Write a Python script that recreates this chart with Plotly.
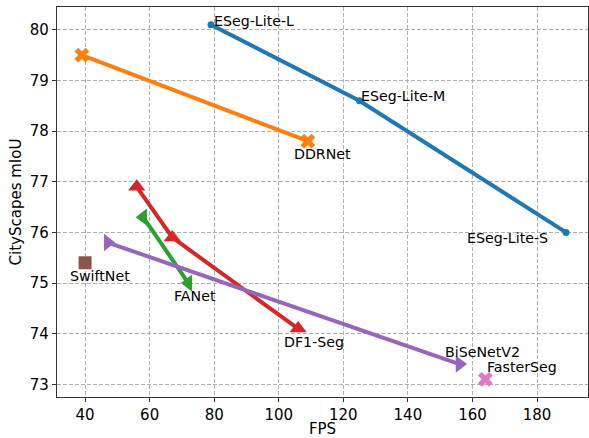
import plotly.graph_objects as go

eseg_fps = [79, 125, 189]
eseg_miou = [80.1, 78.6, 76.0]
eseg_names = ["ESeg-Lite-L", "ESeg-Lite-M", "ESeg-Lite-S"]

ddr_fps = [39, 109]
ddr_miou = [79.5, 77.8]

df1_fps = [56, 67, 106]
df1_miou = [76.9, 75.9, 74.1]

fanet_fps = [58, 72]
fanet_miou = [76.3, 75.0]

bise_fps = [47, 156]
bise_miou = [75.8, 73.4]

swift_fps = [40]
swift_miou = [75.4]

faster_fps = [164]
faster_miou = [73.1]

x_ticks = [40, 60, 80, 100, 120, 140, 160, 180]
y_ticks = [73, 74, 75, 76, 77, 78, 79, 80]

FONT = "DejaVu Sans"
fig = go.Figure()

def add(x, y, color, symbol, size, lw=4, mode="lines+markers"):
    fig.add_trace(go.Scatter(x=x, y=y, mode=mode,
                             line=dict(color=color, width=lw),
                             marker=dict(color=color, symbol=symbol, size=size, line=dict(width=0)),
                             showlegend=False, cliponaxis=False))

add(eseg_fps, eseg_miou, "#1f77b4", "circle", 7)
add(ddr_fps, ddr_miou, "#ff7f0e", "x", 13)
add(df1_fps, df1_miou, "#d62728", "triangle-up", 15)
add(fanet_fps, fanet_miou, "#2ca02c", "triangle-left", 15)
add(bise_fps, bise_miou, "#9467bd", "triangle-right", 15)
add(swift_fps, swift_miou, "#8c564b", "square", 13, mode="markers")
add(faster_fps, faster_miou, "#e377c2", "x", 13, mode="markers")

labels = [
    (eseg_fps[0], eseg_miou[0], eseg_names[0], "left", 1, 3.5),
    (eseg_fps[1], eseg_miou[1], eseg_names[1], "left", 0, 4.7),
    (eseg_fps[2], eseg_miou[2], eseg_names[2], "right", -16, -6),
    (ddr_fps[1], ddr_miou[1], "DDRNet", "left", -16, -13),
    (swift_fps[0], swift_miou[0], "SwiftNet", "left", -17, -13),
    (fanet_fps[1], fanet_miou[1], "FANet", "left", -16.6, -13),
    (df1_fps[2], df1_miou[2], "DF1-Seg", "left", -16.3, -13.7),
    (bise_fps[1], bise_miou[1], "BiSeNetV2", "left", -16.4, 12.4),
    (faster_fps[0], faster_miou[0], "FasterSeg", "left", 0, 12.6),
]
for x, y, t, xa, dx, dy in labels:
    fig.add_annotation(x=x, y=y, text=t, showarrow=False, xanchor=xa, yanchor="middle",
                       xshift=dx, yshift=dy, font=dict(family=FONT, size=14.2, color="black"))

axis_common = dict(showgrid=True, gridcolor="#b0b0b0", griddash="4px,2px", gridwidth=1,
                   showline=True, linecolor="#333333", linewidth=1.2, mirror=True,
                   ticks="outside", ticklen=4, tickcolor="#333333", automargin=False,
                   tickfont=dict(family=FONT, size=15, color="black"), zeroline=False)

fig.update_layout(
    width=589, height=438,
    margin=dict(l=57, r=1, t=7, b=41),
    paper_bgcolor="white", plot_bgcolor="white",
    xaxis=dict(range=[31.3, 195.8], tickvals=x_ticks,
               title=dict(text="FPS", font=dict(family=FONT, size=15, color="black"), standoff=5),
               **axis_common),
    yaxis=dict(range=[72.75, 80.45], tickvals=y_ticks,
               title=dict(text="CityScapes mIoU", font=dict(family=FONT, size=15, color="black"), standoff=4),
               **axis_common),
)

fig.write_html("out.html", config={"responsive": False, "displayModeBar": False},
               post_script="document.body.style.margin='0';document.body.style.padding='0';")
